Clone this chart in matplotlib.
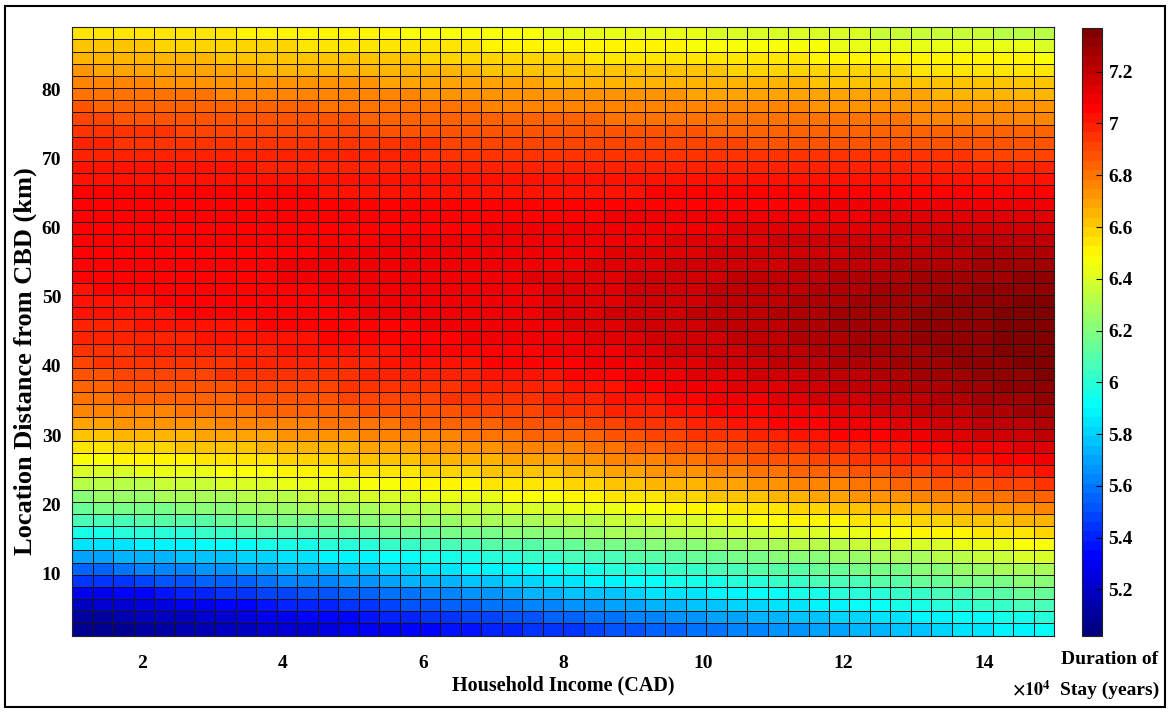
import numpy as np
import matplotlib
matplotlib.use("Agg")
import matplotlib.pyplot as plt
from matplotlib.colors import LinearSegmentedColormap
from matplotlib.patches import Rectangle
from matplotlib.ticker import FormatStrFormatter

# ---------------- data ----------------
# household income grid edges, in units of 10^4 CAD
income_edges = [1.000, 1.292, 1.583, 1.875, 2.167, 2.458, 2.750, 3.042, 3.333, 3.625,
                3.917, 4.208, 4.500, 4.792, 5.083, 5.375, 5.667, 5.958, 6.250, 6.542,
                6.833, 7.125, 7.417, 7.708, 8.000, 8.292, 8.583, 8.875, 9.167, 9.458,
                9.750, 10.042, 10.333, 10.625, 10.917, 11.208, 11.500, 11.792, 12.083, 12.375,
                12.667, 12.958, 13.250, 13.542, 13.833, 14.125, 14.417, 14.708, 15.000]
# location distance from CBD grid edges (km)
distance_edges = [1.00, 2.76, 4.52, 6.28, 8.04, 9.80, 11.56, 13.32, 15.08, 16.84,
                  18.60, 20.36, 22.12, 23.88, 25.64, 27.40, 29.16, 30.92, 32.68, 34.44,
                  36.20, 37.96, 39.72, 41.48, 43.24, 45.00, 46.76, 48.52, 50.28, 52.04,
                  53.80, 55.56, 57.32, 59.08, 60.84, 62.60, 64.36, 66.12, 67.88, 69.64,
                  71.40, 73.16, 74.92, 76.68, 78.44, 80.20, 81.96, 83.72, 85.48, 87.24, 89.00]
# duration of stay, in hundredths of a year; rows go from nearest (bottom) to farthest (top)
stay_hundredths = [
    [506,508,509,511,513,514,516,518,519,521,523,524,526,528,529,531,533,534,536,538,539,541,543,544,546,548,550,552,554,556,558,560,562,564,566,568,570,571,573,575,577,579,581,583,585,587,589,591],
    [511,513,515,517,518,520,522,524,526,528,530,532,533,535,537,539,541,543,545,547,548,550,552,554,556,558,560,562,563,565,567,569,571,573,575,577,578,580,582,584,586,588,590,592,593,595,597,599],
    [519,521,523,525,527,529,531,533,535,537,539,541,542,544,546,548,550,552,554,556,558,560,562,564,566,568,569,571,573,575,577,578,580,582,584,586,587,589,591,593,595,596,598,600,602,604,605,607],
    [529,531,533,535,537,539,541,543,545,547,549,551,552,554,556,558,560,562,564,566,568,570,572,574,576,578,579,581,583,584,586,588,589,591,593,594,596,598,599,601,603,604,606,608,609,611,613,614],
    [543,545,546,548,550,552,554,555,557,559,561,563,564,566,568,570,572,573,575,577,579,581,582,584,586,587,589,591,592,594,595,597,598,600,602,603,605,606,608,610,611,613,614,616,617,619,621,622],
    [556,557,559,561,562,564,566,567,569,570,572,574,575,577,579,580,582,583,585,587,588,590,592,593,595,596,598,599,601,602,604,606,607,609,610,612,613,615,616,618,619,621,623,624,626,627,629,630],
    [569,570,572,573,575,576,578,579,581,582,584,585,587,588,590,591,593,594,596,597,599,600,602,603,605,606,608,609,611,612,614,615,617,618,620,621,623,624,626,627,629,630,632,633,635,636,638,639],
    [583,584,585,587,588,589,591,592,593,595,596,597,599,600,601,603,604,605,607,608,609,611,612,613,615,616,618,619,621,622,623,625,626,628,629,631,632,634,635,637,638,640,641,642,644,645,647,648],
    [596,597,598,599,600,601,603,604,605,606,607,608,610,611,612,613,614,615,617,618,619,620,621,622,624,625,627,628,630,631,632,634,635,637,638,640,641,643,644,646,647,649,650,651,653,654,656,657],
    [606,607,608,609,610,611,612,613,615,616,617,618,619,620,621,622,624,625,626,627,628,629,630,631,633,634,636,637,639,640,641,643,644,646,647,649,650,652,653,655,656,658,659,660,662,663,665,666],
    [615,616,617,618,619,620,621,622,624,625,626,627,628,629,630,631,633,634,635,636,637,638,639,640,642,643,645,646,648,649,650,652,653,655,656,658,659,661,662,664,665,667,668,669,671,672,674,675],
    [623,624,625,626,627,628,629,630,632,633,634,635,636,637,638,639,641,642,643,644,645,646,647,648,650,651,653,654,656,657,659,660,662,663,665,666,668,669,671,672,674,675,677,678,680,681,683,684],
    [631,632,633,634,635,636,637,638,640,641,642,643,644,645,646,647,649,650,651,652,653,654,655,656,658,659,661,662,664,665,667,669,670,672,673,675,676,678,679,681,682,684,686,687,689,690,692,693],
    [639,640,641,642,643,644,645,646,647,648,649,650,652,653,654,655,656,657,658,659,660,661,662,663,665,666,668,670,671,673,674,676,677,679,681,682,684,685,687,689,690,692,693,695,696,698,700,701],
    [647,648,649,650,651,652,653,654,655,656,657,658,659,660,661,662,663,664,665,666,667,668,669,670,672,673,675,677,678,680,681,683,684,686,688,689,691,692,694,696,697,699,700,702,703,705,707,708],
    [655,656,657,658,659,660,661,662,663,664,665,666,666,667,668,669,670,671,672,673,674,675,676,677,678,679,681,683,684,686,687,689,690,692,694,695,697,698,700,702,703,705,706,708,709,711,713,714],
    [662,663,664,665,666,667,668,669,669,670,671,672,673,674,675,676,676,677,678,679,680,681,682,683,684,685,687,688,690,691,693,695,696,698,699,701,702,704,705,707,708,710,712,713,715,716,718,719],
    [669,670,671,672,673,673,674,675,676,677,677,678,679,680,680,681,682,683,684,684,685,686,687,688,689,690,692,693,695,696,698,699,701,702,704,705,707,708,710,711,713,714,716,717,719,720,722,723],
    [675,676,677,678,678,679,680,681,681,682,683,684,684,685,686,687,687,688,689,690,690,691,692,693,694,695,697,698,700,701,702,704,705,707,708,710,711,713,714,716,717,719,720,721,723,724,726,727],
    [680,681,682,682,683,684,685,685,686,687,687,688,689,690,690,691,692,692,693,694,695,695,696,697,698,699,701,702,703,705,706,708,709,710,712,713,715,716,718,719,720,722,723,725,726,727,729,730],
    [684,685,686,686,687,688,688,689,690,690,691,692,692,693,694,694,695,696,696,697,698,698,699,700,701,702,703,705,706,708,709,710,712,713,714,716,717,719,720,721,723,724,725,727,728,730,731,732],
    [688,689,690,690,691,691,692,693,693,694,695,695,696,696,697,698,698,699,700,700,701,701,702,703,704,705,706,708,709,710,712,713,714,716,717,718,720,721,722,724,725,726,728,729,730,732,733,734],
    [692,693,693,694,695,695,696,696,697,698,698,699,699,700,700,701,702,702,703,703,704,705,705,706,707,708,709,710,712,713,714,715,717,718,719,720,722,723,724,725,727,728,729,730,732,733,734,735],
    [695,696,696,697,697,698,699,699,700,700,701,701,702,702,703,703,704,704,705,706,706,707,707,708,709,710,711,712,713,715,716,717,718,719,721,722,723,724,726,727,728,729,730,732,733,734,735,736],
    [697,698,698,699,699,700,701,701,702,702,703,703,704,704,705,705,706,706,707,708,708,709,709,710,711,712,713,714,715,716,717,718,720,721,722,723,724,725,726,727,729,730,731,732,733,734,735,736],
    [699,700,700,701,701,702,702,703,703,704,704,705,705,706,706,707,707,708,708,709,709,710,710,711,712,713,714,715,716,717,718,719,720,721,722,723,725,726,727,728,729,730,731,732,733,734,735,736],
    [701,702,702,703,703,704,704,704,705,705,706,706,707,707,708,708,709,709,709,710,710,711,711,712,713,714,715,716,717,718,719,720,721,722,723,724,725,726,727,728,729,730,731,732,733,734,735,736],
    [702,703,703,703,704,704,705,705,706,706,706,707,707,708,708,708,709,709,710,710,711,711,711,712,712,713,714,715,716,717,718,719,720,721,722,723,724,725,726,727,728,729,730,731,732,733,734,735],
    [703,704,704,704,705,705,705,706,706,707,707,707,708,708,708,709,709,710,710,710,711,711,711,712,712,713,714,715,716,717,718,719,719,720,721,722,723,724,725,726,726,727,728,729,730,731,732,733],
    [704,705,705,705,706,706,706,707,707,707,708,708,708,709,709,709,710,710,710,711,711,711,712,712,712,713,714,715,716,716,717,718,719,720,720,721,722,723,723,724,725,726,727,727,728,729,730,731],
    [705,705,706,706,706,706,707,707,707,707,708,708,708,708,709,709,709,709,710,710,710,710,711,711,711,712,713,713,714,715,716,716,717,718,718,719,720,721,721,722,723,723,724,725,726,726,727,728],
    [705,705,706,706,706,706,706,707,707,707,707,707,708,708,708,708,708,709,709,709,709,709,710,710,710,711,712,712,713,713,714,715,715,716,717,717,718,718,719,720,720,721,722,722,723,723,724,725],
    [705,705,705,706,706,706,706,706,706,707,707,707,707,707,707,708,708,708,708,708,708,709,709,709,709,710,710,711,711,712,713,713,714,714,715,715,716,716,717,717,718,718,719,720,720,721,721,722],
    [705,705,705,705,706,706,706,706,706,706,706,706,707,707,707,707,707,707,707,707,708,708,708,708,708,709,709,709,710,710,711,711,712,712,712,713,713,714,714,714,715,715,716,716,717,717,717,718],
    [705,705,705,705,705,705,706,706,706,706,706,706,706,706,706,706,706,706,707,707,707,707,707,707,707,707,708,708,708,709,709,709,709,710,710,710,711,711,711,712,712,712,712,713,713,713,714,714],
    [704,704,704,704,704,704,704,704,704,704,704,704,705,705,705,705,705,705,705,705,705,705,705,705,705,705,706,706,706,706,706,707,707,707,707,707,708,708,708,708,708,709,709,709,709,709,710,710],
    [704,704,704,704,704,704,704,704,704,704,704,704,703,703,703,703,703,703,703,703,703,703,703,703,703,703,703,703,704,704,704,704,704,704,704,704,705,705,705,705,705,705,705,705,706,706,706,706],
    [703,703,703,703,703,703,702,702,702,702,702,702,702,702,702,702,702,702,701,701,701,701,701,701,701,701,701,701,701,701,701,701,701,701,701,701,701,701,701,701,701,701,701,701,701,701,701,701],
    [702,702,702,701,701,701,701,701,701,700,700,700,700,700,700,699,699,699,699,699,699,698,698,698,698,698,698,698,698,698,698,698,698,698,698,698,697,697,697,697,697,697,697,697,697,697,697,697],
    [700,700,699,699,699,699,699,698,698,698,698,698,697,697,697,697,697,696,696,696,696,696,695,695,695,695,695,695,694,694,694,694,694,694,694,694,693,693,693,693,693,693,693,693,692,692,692,692],
    [697,697,696,696,696,696,695,695,695,695,694,694,694,694,693,693,693,693,692,692,692,692,691,691,691,691,691,690,690,690,690,690,690,689,689,689,689,689,689,688,688,688,688,688,688,687,687,687],
    [694,694,693,693,693,692,692,692,692,691,691,691,690,690,690,689,689,689,689,688,688,688,687,687,687,687,686,686,686,686,686,685,685,685,685,685,684,684,684,684,684,683,683,683,683,683,682,682],
    [690,690,689,689,689,688,688,688,687,687,687,686,686,686,685,685,685,684,684,684,683,683,683,682,682,682,681,681,681,681,681,680,680,680,680,680,679,679,679,679,679,678,678,678,678,678,677,677],
    [686,685,685,685,684,684,684,683,683,682,682,682,681,681,681,680,680,679,679,679,678,678,678,677,677,677,676,676,676,676,676,675,675,675,675,675,674,674,674,674,674,673,673,673,673,673,672,672],
    [681,680,680,680,679,679,679,678,678,677,677,677,676,676,676,675,675,674,674,674,673,673,673,672,672,672,671,671,671,671,670,670,670,670,669,669,669,669,668,668,668,668,667,667,667,667,666,666],
    [676,675,675,675,674,674,674,673,673,672,672,672,671,671,671,670,670,669,669,669,668,668,668,667,667,667,666,666,666,665,665,665,665,664,664,664,663,663,663,662,662,662,662,661,661,661,660,660],
    [671,670,670,670,669,669,669,668,668,667,667,667,666,666,666,665,665,664,664,664,663,663,663,662,662,662,661,661,661,660,660,660,659,659,659,658,658,658,657,657,657,656,656,656,655,655,655,654],
    [666,665,665,665,664,664,664,663,663,662,662,662,661,661,661,660,660,659,659,659,658,658,658,657,657,656,656,656,655,655,655,654,654,653,653,653,652,652,652,651,651,650,650,650,649,649,649,648],
    [661,660,660,660,659,659,658,658,657,657,657,656,656,655,655,655,654,654,653,653,652,652,652,651,651,650,650,650,649,649,648,648,647,647,647,646,646,645,645,645,644,644,643,643,642,642,642,641],
    [656,655,655,654,654,653,653,653,652,652,651,651,650,650,649,649,648,648,648,647,647,646,646,645,645,644,644,643,643,642,642,641,641,640,640,639,639,638,638,637,637,636,636,635,635,634,634,633],
]
x_ticks = [2, 4, 6, 8, 10, 12, 14]
y_ticks = [10, 20, 30, 40, 50, 60, 70, 80]
cbar_ticks = [5.2, 5.4, 5.6, 5.8, 6.0, 6.2, 6.4, 6.6, 6.8, 7.0, 7.2]

# ---------------- figure ----------------
plt.rcParams['font.family'] = ['Liberation Serif', 'DejaVu Serif']
plt.rcParams['font.weight'] = 'bold'
plt.rcParams['mathtext.fontset'] = 'stix'

W, H = 1176, 712
fig = plt.figure(figsize=(W / 100, H / 100), dpi=100)
fig.patch.set_facecolor('white')

def fx(px):
    return px / W

def fy(py):
    return 1 - py / H

duration = np.array(stay_hundredths, dtype=float) / 100.0

ax = fig.add_axes([fx(72.3), fy(635.5), (1054 - 72.3) / W, (635.5 - 27.3) / H])

matlab_jet = LinearSegmentedColormap.from_list(
    'matlab_jet',
    [(0.0, (0, 0, 0.5)), (1 / 8, (0, 0, 1)), (3 / 8, (0, 1, 1)),
     (5 / 8, (1, 1, 0)), (7 / 8, (1, 0, 0)), (1.0, (0.5, 0, 0))], N=64)

mesh = ax.pcolormesh(income_edges, distance_edges, duration, cmap=matlab_jet,
                     vmin=5.02, vmax=7.37, shading='flat',
                     edgecolors='#1a1212', linewidth=0.5)

ax.set_xlim(income_edges[0], income_edges[-1])
ax.set_ylim(distance_edges[0], distance_edges[-1])
ax.set_xticks(x_ticks)
ax.set_xticklabels([str(t) for t in x_ticks])
ax.set_yticks(y_ticks)
ax.set_yticklabels([str(t) for t in y_ticks])
# ticks sit beneath the surface in the original, so they are not visible
ax.tick_params(axis='x', direction='in', length=0, pad=14, labelsize=14)
ax.tick_params(axis='y', direction='in', length=0, pad=8, labelsize=14)
for sp in ax.spines.values():
    sp.set_linewidth(0.8)
    sp.set_color('#222222')

ax.set_xlabel('Household Income (CAD)', fontsize=14.5, fontweight='bold')
ax.xaxis.set_label_coords(0.5, (635.5 - 685) / (635.5 - 27.3))
ax.xaxis.label.set_va('center')
fig.text(fx(25), fy(361), 'Location Distance from CBD (km)', rotation=90,
         ha='center', va='center', fontsize=19, fontweight='bold')

# colorbar
cax = fig.add_axes([fx(1082), fy(636), 19.5 / W, (636 - 27.7) / H])
cb = fig.colorbar(mesh, cax=cax, ticks=cbar_ticks)
cb.ax.yaxis.set_major_formatter(FormatStrFormatter('%g'))
cb.ax.tick_params(direction='in', length=4, width=0.8, pad=5, labelsize=14)
cb.outline.set_linewidth(0.8)
cb.outline.set_edgecolor('#222222')

fig.text(fx(1110), fy(660), 'Duration of', ha='center', va='center',
         fontsize=14, fontweight='bold')
fig.text(fx(1110), fy(690), 'Stay (years)', ha='center', va='center',
         fontsize=14, fontweight='bold')
fig.text(fx(1012), fy(690), r'$\times10^4$', ha='left', va='center',
         fontsize=13, fontweight='normal')

# outer frame
fig.patches.append(Rectangle((fx(5), fy(707)), (1165 - 5) / W, (707 - 6) / H,
                             transform=fig.transFigure, fill=False,
                             edgecolor='black', linewidth=1.5))

fig.savefig('out.png', dpi=100)
